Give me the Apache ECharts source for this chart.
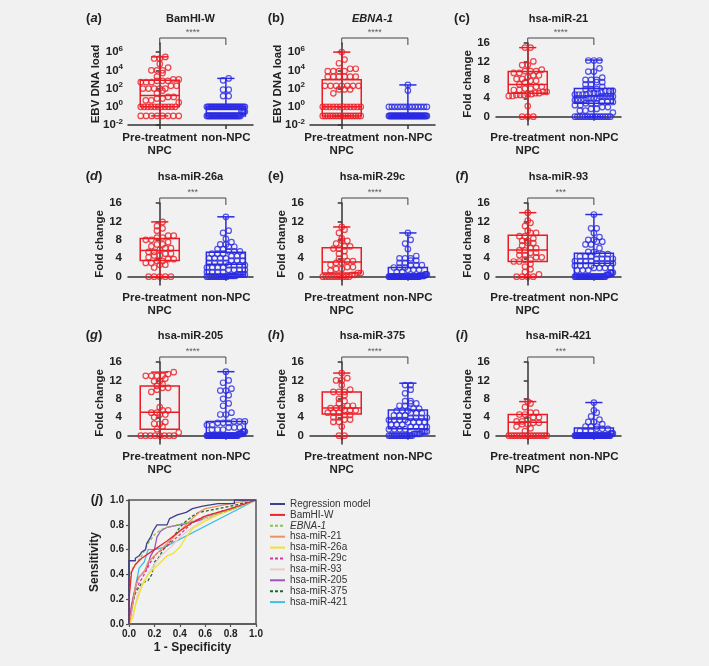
<!DOCTYPE html>
<html>
<head>
<meta charset="utf-8">
<script src="https://cdn.jsdelivr.net/npm/echarts@6/dist/echarts.min.js"></script>
<style>
  html, body { margin: 0; padding: 0; background: #f1f1f1; }
  #main { width: 709px; height: 666px; }
</style>
</head>
<body>
<div id="main"></div>
<script>
// groups on every box panel
var groups = ['Pre-treatment\nNPC', 'non-NPC'];

// box stats: [min, Q1, median, Q3, max]; points as [value, count]
var aRedBox = [0.1, 1, 17, 800, 3e5];
var aRedPts = [[0.1,8],[1,11],[3,1],[5,2],[8,2],[12,2],[30,1],[60,1],[100,5],[200,2],[500,3],[700,3],[1000,2],[2000,1],[5000,1],[1e4,3],[2e4,1],[5e4,1],[2e5,2],[3e5,1]];
var aBlueBox = [0.1, 0.1, 0.2, 1, 1300];
var aBluePts = [[0.1,30],[0.3,4],[1,30],[15,2],[75,2],[800,1],[1300,1]];

var bRedBox = [0.1, 0.1, 1, 900, 1e6];
var bRedPts = [[0.1,16],[1,12],[30,1],[80,3],[200,7],[2000,6],[8000,4],[1.5e4,2],[6e4,1],[1.5e5,1],[1e6,1]];
var bBlueBox = [0.1, 0.1, 0.1, 0.1, 250];
var bBluePts = [[0.1,45],[1,14],[60,1],[250,1]];

var cRedBox = [0, 5.1, 7.0, 9.8, 15.0];
var cRedPts = [[0,3],[2.3,1],[4.5,2],[4.7,3],[4.9,2],[5.1,2],[5.4,2],[5.8,2],[6.1,2],[6.5,2],[7.0,1],[7.4,1],[7.8,2],[8.2,2],[8.6,1],[9.0,2],[9.5,2],[9.9,3],[10.2,1],[11.2,2],[12.0,1],[15.0,2]];
var cBlueBox = [0, 2.9, 4.5, 6.1, 12.3];
var cBluePts = [[0,15],[0.9,1],[1.3,2],[1.7,2],[2.1,2],[2.5,2],[2.9,3],[3.2,3],[3.6,4],[4.0,4],[4.4,5],[4.8,4],[5.2,4],[5.6,3],[6.0,3],[6.5,1],[7.0,2],[7.5,2],[8.0,3],[8.5,1],[9.8,2],[10.5,1],[12.2,3]];

var dRedBox = [0, 3.5, 5.7, 8.3, 11.9];
var dRedPts = [[0,5],[2.0,1],[2.6,2],[3.0,2],[3.4,2],[3.8,2],[4.2,1],[4.6,2],[5.0,2],[5.4,2],[5.8,1],[6.2,2],[6.6,1],[7.0,2],[7.5,1],[8.0,2],[8.5,2],[8.9,2],[10.0,1],[10.5,1],[11.0,1],[11.9,1]];
var dBlueBox = [0, 0.4, 2.7, 5.3, 13.0];
var dBluePts = [[0,12],[0.2,5],[0.5,5],[1.0,4],[1.5,4],[2.0,4],[2.5,4],[3.0,4],[3.5,3],[4.0,4],[4.5,3],[5.0,3],[5.5,3],[6.0,2],[6.5,2],[7.0,2],[7.5,1],[8.2,1],[9.5,1],[10.0,1],[13.0,1]];

var eRedBox = [0, 0.8, 3.2, 6.3, 10.8];
var eRedPts = [[0,10],[0.4,2],[0.8,2],[1.3,1],[1.7,2],[2.1,2],[2.6,1],[3.0,2],[3.4,2],[3.9,1],[4.4,1],[5.0,1],[5.6,1],[6.1,2],[6.6,2],[7.2,1],[7.8,2],[8.3,1],[9.5,1],[10.2,1],[10.8,1]];
var eBlueBox = [0, 0, 0.1, 2.0, 9.5];
var eBluePts = [[0,35],[0.2,6],[0.5,3],[1.0,2],[1.5,3],[2.0,3],[2.5,3],[3.0,2],[3.5,2],[4.0,3],[4.5,1],[6.0,1],[7.2,1],[8.0,1],[9.5,1]];

var fRedBox = [0, 3.3, 5.8, 9.0, 13.9];
var fRedPts = [[0,4],[0.5,1],[1.0,1],[1.6,1],[2.2,1],[2.8,1],[3.3,2],[3.7,2],[4.2,2],[4.7,2],[5.2,2],[5.7,2],[6.2,2],[6.8,1],[7.3,2],[7.8,2],[8.3,1],[8.8,2],[9.5,2],[10.0,1],[11.0,1],[11.7,1],[12.2,1],[13.9,1]];
var fBlueBox = [0, 0.1, 2.9, 5.1, 13.5];
var fBluePts = [[0,25],[0.4,3],[0.9,3],[1.4,3],[1.9,4],[2.4,4],[2.9,4],[3.4,4],[3.9,4],[4.4,3],[4.9,3],[5.4,2],[6.2,1],[7.0,2],[7.6,2],[8.0,2],[8.6,1],[9.5,1],[10.5,2],[13.5,1]];

var gRedBox = [0, 1.4, 5.1, 10.8, 13.8];
var gRedPts = [[0,8],[0.7,1],[1.4,1],[2.0,1],[2.6,2],[3.0,1],[4.0,1],[4.6,2],[5.0,2],[5.5,2],[6.2,1],[9.5,1],[10.0,1],[10.4,2],[10.8,1],[11.2,1],[11.8,2],[12.4,1],[13.0,4],[13.4,1],[13.8,1]];
var gBlueBox = [0, 0, 0.4, 3.1, 13.9];
var gBluePts = [[0,35],[0.4,5],[0.9,3],[1.3,3],[1.8,3],[2.3,2],[2.8,3],[3.1,3],[4.6,2],[5.0,1],[6.5,1],[7.0,1],[8.0,1],[8.8,1],[9.8,2],[10.2,1],[11.5,1],[12.0,1],[13.9,1]];

var hRedBox = [0, 4.7, 6.0, 9.5, 13.6];
var hRedPts = [[0,2],[2.0,1],[3.0,2],[3.5,2],[4.0,2],[4.5,2],[5.0,3],[5.5,3],[6.0,3],[6.5,2],[7.0,1],[7.5,1],[8.0,1],[8.8,1],[9.5,3],[10.0,1],[11.0,1],[12.0,2],[12.5,1],[13.6,1]];
var hBlueBox = [0, 1.5, 3.6, 5.6, 11.4];
var hBluePts = [[0,15],[0.4,5],[0.9,4],[1.4,4],[1.9,4],[2.4,3],[2.9,4],[3.4,4],[3.9,4],[4.4,3],[4.9,3],[5.4,3],[5.9,2],[6.5,2],[7.0,2],[7.5,2],[9.2,1],[10.0,1],[11.0,2]];

var iRedBox = [0, 0, 2.9, 4.6, 7.4];
var iRedPts = [[0,15],[1.0,1],[1.6,1],[2.0,1],[2.5,2],[2.8,2],[3.1,2],[3.5,1],[4.0,2],[4.6,2],[5.0,2],[6.2,1],[7.0,1],[7.4,1]];
var iBlueBox = [0, 0, 0.1, 1.7, 7.2];
var iBluePts = [[0,40],[0.5,3],[1.0,3],[1.5,3],[2.0,3],[2.5,1],[3.0,2],[3.5,1],[4.2,1],[5.0,1],[5.5,1],[7.2,1]];

var panelTitles = ['BamHI-W', 'EBNA-1', 'hsa-miR-21', 'hsa-miR-26a', 'hsa-miR-29c', 'hsa-miR-93', 'hsa-miR-205', 'hsa-miR-375', 'hsa-miR-421'];
var panelLetters = ['a', 'b', 'c', 'd', 'e', 'f', 'g', 'h', 'i'];
var panelStars = ['****', '****', '****', '***', '****', '***', '****', '****', '***'];
var foldTicks = [0, 4, 8, 12, 16];
var logTicks = [0.01, 1, 100, 1e4, 1e6];

// ROC curves [1 - specificity, sensitivity]
var rocNames = ['Regression model', 'BamHI-W', 'EBNA-1', 'hsa-miR-21', 'hsa-miR-26a', 'hsa-miR-29c', 'hsa-miR-93', 'hsa-miR-205', 'hsa-miR-375', 'hsa-miR-421'];
var rocRegression = [[0,0],[0,0.51],[0.05,0.51],[0.05,0.53],[0.08,0.55],[0.1,0.58],[0.13,0.6],[0.14,0.65],[0.17,0.7],[0.19,0.75],[0.22,0.8],[0.3,0.8],[0.32,0.85],[0.38,0.88],[0.45,0.9],[0.5,0.93],[0.58,0.95],[0.7,0.97],[0.83,0.97],[0.83,1],[1,1]];
var rocBamHI = [[0,0],[0,0.2],[0.02,0.42],[0.05,0.48],[0.1,0.53],[0.2,0.6],[0.3,0.67],[0.4,0.75],[0.5,0.82],[0.6,0.87],[0.8,0.93],[1,1]];
var rocEBNA = [[0,0],[0,0.2],[0.01,0.4],[0.03,0.45],[0.1,0.55],[0.15,0.65],[0.2,0.72],[0.25,0.76],[0.3,0.78],[0.5,0.83],[0.8,0.92],[1,1]];
var rocMiR21 = [[0,0],[0.02,0.1],[0.05,0.3],[0.08,0.38],[0.12,0.42],[0.15,0.5],[0.2,0.55],[0.25,0.6],[0.3,0.65],[0.35,0.7],[0.4,0.75],[0.45,0.8],[0.5,0.85],[0.55,0.9],[0.6,0.93],[0.7,0.95],[0.85,0.98],[1,1]];
var rocMiR26a = [[0,0],[0.03,0.05],[0.05,0.15],[0.1,0.3],[0.15,0.4],[0.2,0.45],[0.25,0.5],[0.3,0.55],[0.35,0.57],[0.4,0.62],[0.45,0.7],[0.5,0.77],[0.6,0.83],[0.7,0.88],[0.8,0.92],[1,1]];
var rocMiR29c = [[0,0],[0.03,0.2],[0.08,0.33],[0.12,0.4],[0.17,0.5],[0.22,0.57],[0.3,0.63],[0.4,0.72],[0.5,0.82],[0.6,0.87],[0.8,0.93],[1,1]];
var rocMiR93 = [[0,0],[0.04,0.1],[0.07,0.25],[0.12,0.35],[0.18,0.45],[0.25,0.55],[0.33,0.62],[0.4,0.7],[0.5,0.78],[0.6,0.85],[0.8,0.92],[1,1]];
var rocMiR205 = [[0,0],[0.02,0.15],[0.04,0.25],[0.07,0.37],[0.1,0.4],[0.14,0.45],[0.17,0.55],[0.2,0.6],[0.22,0.7],[0.25,0.75],[0.3,0.78],[0.4,0.8],[0.5,0.82],[0.6,0.85],[0.8,0.92],[1,1]];
var rocMiR375 = [[0,0],[0,0.05],[0.05,0.25],[0.08,0.3],[0.1,0.33],[0.15,0.35],[0.18,0.4],[0.2,0.5],[0.23,0.53],[0.27,0.6],[0.3,0.63],[0.35,0.7],[0.4,0.78],[0.45,0.83],[0.5,0.87],[0.55,0.9],[0.65,0.92],[0.8,0.95],[1,1]];
var rocMiR421 = [[0,0],[0.02,0.1],[0.05,0.3],[0.08,0.45],[0.12,0.5],[0.15,0.6],[0.2,0.6],[0.28,0.62],[1,1]];
var rocColors = ['#3c3f8c', '#e8262b', '#86c44a', '#f0925c', '#f2e130', '#d43a93', '#e6cfc6', '#9c55b8', '#20682f', '#3ebfe8'];
var rocDashed = [false, false, true, false, false, true, false, false, true, false];

var FONT = 'Liberation Sans, Arial, Helvetica, sans-serif';
var RED = '#ec1c24', BLUE = '#2b2be3', AXIS = '#333';
var COLS = [128, 310, 496], ROWS = [43, 203, 362], TITLE_Y = [19, 177, 336];
var GW = 125, GH = 82;
var XMIN = -0.48, XMAX = 1.41;
var FMIN = -1.8, FMAX = 16;
var LMIN = 0.01, LMAX = 1e7;
var PX_X = GW / (XMAX - XMIN);
var PX_F = GH / (FMAX - FMIN);
var PX_L = GH / 9;

var panels = [
  [aRedBox, aRedPts, aBlueBox, aBluePts],
  [bRedBox, bRedPts, bBlueBox, bBluePts],
  [cRedBox, cRedPts, cBlueBox, cBluePts],
  [dRedBox, dRedPts, dBlueBox, dBluePts],
  [eRedBox, eRedPts, eBlueBox, eBluePts],
  [fRedBox, fRedPts, fBlueBox, fBluePts],
  [gRedBox, gRedPts, gBlueBox, gBluePts],
  [hRedBox, hRedPts, hBlueBox, hBluePts],
  [iRedBox, iRedPts, iBlueBox, iBluePts]
];
var rocData = [rocRegression, rocBamHI, rocEBNA, rocMiR21, rocMiR26a, rocMiR29c, rocMiR93, rocMiR205, rocMiR375, rocMiR421];

// spread points of similar value sideways, in rows (like a scatter dot plot)
function swarm(rle, cx, log) {
  var vals = [];
  rle.forEach(function (r) { for (var k = 0; k < r[1]; k++) vals.push(r[0]); });
  vals.sort(function (a, b) { return a - b; });
  var py = function (v) { return log ? Math.log10(v) * PX_L : v * PX_F; };
  var out = [], i = 0;
  while (i < vals.length) {
    var j = i;
    while (j + 1 < vals.length && py(vals[j + 1]) - py(vals[i]) < 4.5) j++;
    var n = j - i + 1;
    var step = n > 1 ? Math.min(5.6, 38 / (n - 1)) : 0;
    for (var k = 0; k < n; k++) {
      out.push([cx + (k - (n - 1) / 2) * step / PX_X, vals[i + k]]);
    }
    i = j + 1;
  }
  return out;
}

function renderBox(params, api) {
  var x = api.value(0);
  var col = x === 0 ? RED : BLUE;
  var c = function (dx, v) { return api.coord([x + dx, v]); };
  var bw = 0.295, cw = 0.13;
  var mn = api.value(1), q1 = api.value(2), md = api.value(3), q3 = api.value(4), mx = api.value(5);
  var st = { stroke: col, lineWidth: 1.5, fill: null };
  function ln(p, q) { return { type: 'line', shape: { x1: p[0], y1: p[1], x2: q[0], y2: q[1] }, style: st }; }
  var a = c(-bw, q3), b = c(bw, q1);
  return {
    type: 'group',
    children: [
      { type: 'rect', shape: { x: a[0], y: a[1], width: b[0] - a[0], height: b[1] - a[1] }, style: st },
      ln(c(-bw, md), c(bw, md)),
      ln(c(0, mn), c(0, q1)),
      ln(c(0, q3), c(0, mx)),
      ln(c(-cw, mn), c(cw, mn)),
      ln(c(-cw, mx), c(cw, mx))
    ]
  };
}

var grids = [], xAxes = [], yAxes = [], series = [], titles = [];
var letterStyle = { fontFamily: FONT, fontWeight: 'bold', fontSize: 13, color: '#222',
  rich: { i: { fontFamily: FONT, fontWeight: 'bold', fontStyle: 'italic', fontSize: 13, color: '#222' } } };

panels.forEach(function (p, i) {
  var col = i % 3, row = Math.floor(i / 3);
  var log = i < 2;
  grids.push({ left: COLS[col], top: ROWS[row], width: GW, height: GH });
  xAxes.push({
    type: 'value', gridIndex: i, min: XMIN, max: XMAX,
    axisLine: { lineStyle: { color: AXIS, width: 1.5 } },
    axisTick: { customValues: [0, 1], length: 4, lineStyle: { color: AXIS, width: 1.5 } },
    axisLabel: { customValues: [0, 1], margin: 6, fontSize: 11.5, lineHeight: 13, fontFamily: FONT, fontWeight: 'bold', color: '#222',
      formatter: function (v) { return groups[Math.round(v)]; } },
    splitLine: { show: false }
  });
  var y = {
    gridIndex: i,
    name: log ? 'EBV DNA load' : 'Fold change',
    nameLocation: 'middle', nameGap: log ? 26 : 22, nameMoveOverlap: false,
    nameTextStyle: { fontFamily: FONT, fontWeight: 'bold', fontSize: 11.5, color: '#222' },
    axisLine: { show: true, lineStyle: { color: AXIS, width: 1.5 } },
    axisTick: { show: true, length: 4, lineStyle: { color: AXIS, width: 1.5 } },
    splitLine: { show: false }
  };
  if (log) {
    y.type = 'log'; y.logBase = 10; y.min = LMIN; y.max = LMAX;
    y.axisTick.customValues = logTicks;
    y.axisLabel = { customValues: logTicks, margin: 5, fontFamily: FONT, fontWeight: 'bold', fontSize: 11.5, color: '#222',
      formatter: function (v) { return '10{s|' + Math.round(Math.log10(v)) + '}'; },
      rich: { s: { fontFamily: FONT, fontWeight: 'bold', fontSize: 8, color: '#222', padding: [0, 0, 7, 0] } } };
  } else {
    y.type = 'value'; y.min = FMIN; y.max = FMAX;
    y.axisTick.customValues = foldTicks;
    y.axisLabel = { customValues: foldTicks, margin: 6, fontFamily: FONT, fontWeight: 'bold', fontSize: 11.5, color: '#222' };
  }
  yAxes.push(y);

  series.push({
    type: 'custom', xAxisIndex: i, yAxisIndex: i, renderItem: renderBox, z: 2,
    data: [[0].concat(p[0]), [1].concat(p[2])]
  });
  [[p[1], 0, RED], [p[3], 1, BLUE]].forEach(function (g) {
    series.push({
      type: 'scatter', xAxisIndex: i, yAxisIndex: i, z: 3, symbol: 'circle', symbolSize: 5.5,
      itemStyle: { color: 'rgba(0,0,0,0)', borderColor: g[2], borderWidth: 1.2 },
      data: swarm(g[0], g[1], log)
    });
  });
  var top = log ? function (px) { return Math.pow(10, 7 + px / PX_L); } : function (px) { return FMAX + px / PX_F; };
  series.push({
    type: 'line', xAxisIndex: i, yAxisIndex: i, clip: false, symbol: 'none', silent: true,
    lineStyle: { color: '#444', width: 1 },
    data: [[0, top(-2)], [0, top(5)], [1, top(5)], [1, top(-2)]]
  });
  series.push({
    type: 'scatter', xAxisIndex: i, yAxisIndex: i, clip: false, symbolSize: 0, silent: true,
    label: { show: true, position: 'inside', formatter: panelStars[i], fontFamily: FONT, fontSize: 9, color: '#333' },
    data: [[0.5, top(10)]]
  });

  var cx = COLS[col] + GW / 2;
  var italicLetter = ['b', 'c', 'e'].indexOf(panelLetters[i]) < 0;
  titles.push({
    text: italicLetter ? '({i|' + panelLetters[i] + '})' : '(' + panelLetters[i] + ')',
    left: COLS[col] - 34, top: TITLE_Y[row] - 7, textAlign: 'center', padding: 0,
    textStyle: letterStyle
  });
  titles.push({
    text: panelTitles[i], left: cx, top: TITLE_Y[row] - 6, textAlign: 'center', padding: 0,
    textStyle: { fontFamily: FONT, fontWeight: 'bold', fontSize: 11, color: '#222', fontStyle: i === 1 ? 'italic' : 'normal' }
  });
});

// ROC panel
grids.push({ left: 129, top: 500, width: 127, height: 124, show: true, borderColor: '#555', borderWidth: 1.5 });
var rocAxis = function (name, gap) {
  return {
    type: 'value', gridIndex: 9, min: 0, max: 1, interval: 0.2,
    name: name, nameLocation: 'middle', nameGap: gap,
    nameTextStyle: { fontFamily: FONT, fontWeight: 'bold', fontSize: 12, color: '#222' },
    axisLine: { show: true, lineStyle: { color: '#555', width: 1.5 } },
    axisTick: { show: true, length: 3, lineStyle: { color: '#555', width: 1.2 } },
    axisLabel: { margin: 5, fontFamily: FONT, fontWeight: 'bold', fontSize: 10, color: '#222',
      formatter: function (v) { return v.toFixed(1); } },
    splitLine: { show: false }
  };
};
xAxes.push(rocAxis('1 - Specificity', 18));
yAxes.push(rocAxis('Sensitivity', 28));
rocData.forEach(function (d, k) {
  series.push({
    name: rocNames[k], type: 'line', xAxisIndex: 9, yAxisIndex: 9, symbol: 'none', z: 10 - k,
    lineStyle: { color: rocColors[k], width: 1.3, type: rocDashed[k] ? [3, 2] : 'solid' },
    itemStyle: { color: rocColors[k] },
    data: d
  });
});
titles.push({ text: '({i|j})', left: 97, top: 493, textAlign: 'center', padding: 0, textStyle: letterStyle });

var chart = echarts.init(document.getElementById('main'));
chart.setOption({
  animation: false,
  backgroundColor: '#f1f1f1',
  title: titles,
  grid: grids,
  xAxis: xAxes,
  yAxis: yAxes,
  legend: {
    data: rocNames, orient: 'vertical', left: 269, top: 499, padding: 0,
    itemWidth: 15, itemHeight: 10, itemGap: 0.9,
    itemStyle: { opacity: 0 },
    textStyle: { fontFamily: FONT, fontSize: 10, color: '#333', lineHeight: 10,
      rich: { i: { fontFamily: FONT, fontSize: 10, fontStyle: 'italic', color: '#333', lineHeight: 10 } } },
    formatter: function (n) { return n === 'EBNA-1' ? '{i|EBNA-1}' : n; }
  },
  series: series
});
</script>
</body>
</html>
